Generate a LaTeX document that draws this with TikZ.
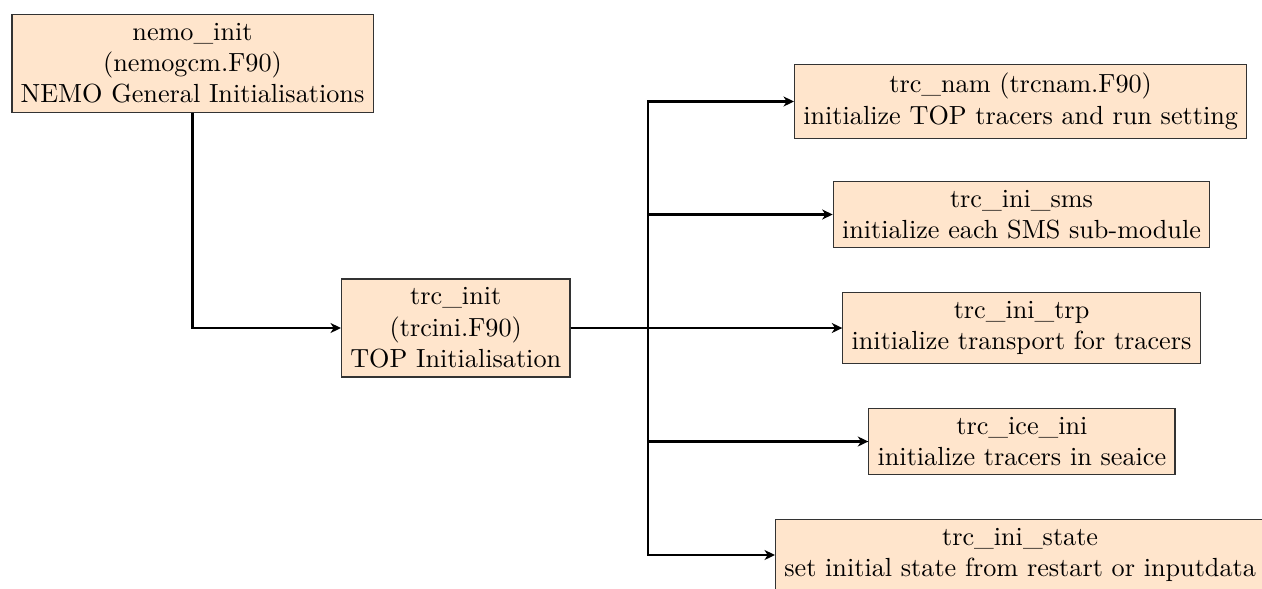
\documentclass[tikz,border=0pt]{standalone}
\usetikzlibrary{arrows.meta}
\definecolor{boxfill}{RGB}{255,229,204}
\begin{document}
\begin{tikzpicture}[x=0.3817pt,y=-0.3817pt,
  box/.style={draw=black!80, fill=boxfill, align=center, inner sep=3.33pt, line width=0.45pt},
  arr/.style={-{Stealth[length=4pt,width=3.8pt,inset=1.2pt]}, line width=0.9pt}]
\useasboundingbox (0,0) rectangle (1262,588);
\node[box] (nemo) at (192.5,63.2) {nemo\_init\\(nemogcm.F90)\\NEMO General Initialisations};
\node[box, anchor=west] (init) at (341,328) {trc\_init\\(trcini.F90)\\TOP Initialisation};
\node[box, anchor=west] (nam) at (794,101.5) {trc\_nam (trcnam.F90)\\initialize TOP tracers and run setting};
\node[box, anchor=west] (sms) at (832.7,214.5) {trc\_ini\_sms\\initialize each SMS sub-module};
\node[box, anchor=west] (trp) at (842.3,328) {trc\_ini\_trp\\initialize transport for tracers};
\node[box, anchor=west] (ice) at (868.3,441.5) {trc\_ice\_ini\\initialize tracers in seaice};
\node[box, anchor=west] (state) at (775,555) {trc\_ini\_state\\set initial state from restart or inputdata};
\coordinate (split) at (648.3,328);
\draw[arr] (nemo.south) |- (init.west);
\draw[arr] (init.east) -- (split) |- (nam.west);
\draw[arr] (init.east) -- (split) |- (sms.west);
\draw[arr] (init.east) -- (trp.west);
\draw[arr] (init.east) -- (split) |- (ice.west);
\draw[arr] (init.east) -- (split) |- (state.west);
\end{tikzpicture}
\end{document}
